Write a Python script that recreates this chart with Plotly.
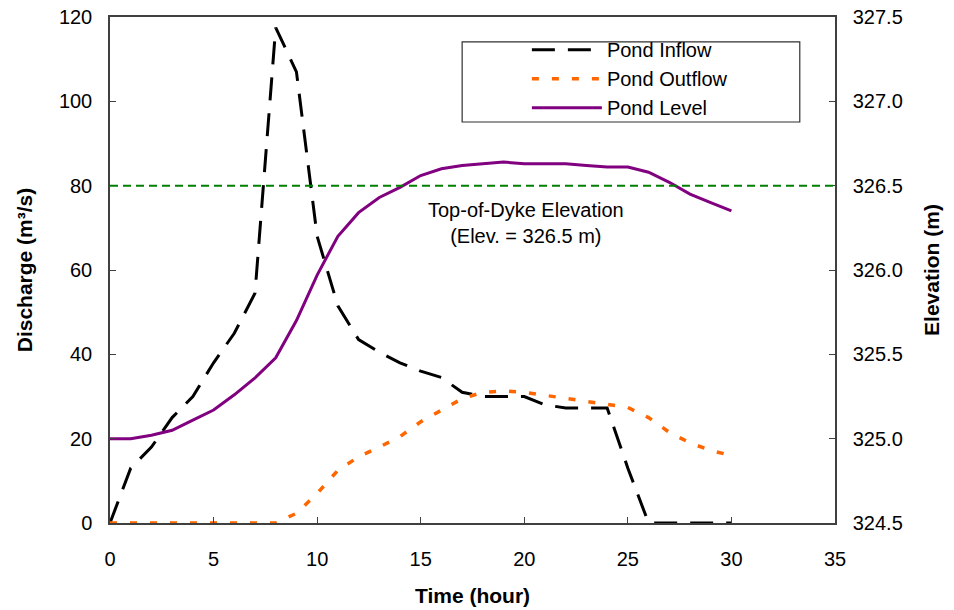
import plotly.graph_objects as go

# Hourly pond routing results
hours = list(range(0, 31))
inflow = [0, 13, 18, 25, 30, 38, 45, 54.5, 117.5, 107, 68, 51.5, 43.5, 40.5, 38,
          36, 34.5, 31, 30, 30, 30, 28, 27.3, 27.3, 27.3, 13, 0, 0, 0, 0, 0]
outflow = [0, 0, 0, 0, 0, 0, 0, 0, 0, 2.3, 7, 12.5, 15.7, 18, 20.5,
           24, 26.8, 29.5, 31, 31.3, 31, 30.3, 29.6, 28.8, 28.2, 27.4, 25, 21.5, 19, 17.2, 16]
level = [325.0, 325.0, 325.02, 325.05, 325.11, 325.17, 325.26, 325.36, 325.48, 325.7, 325.97,
         326.2, 326.34, 326.43, 326.49, 326.56, 326.6, 326.62, 326.63, 326.64, 326.63,
         326.63, 326.63, 326.62, 326.61, 326.61, 326.58, 326.52, 326.45, 326.4, 326.35]

dyke_elev = 326.5
series_names = ["Pond Inflow", "Pond Outflow", "Pond Level"]

FONT = "Liberation Sans, Arial, sans-serif"
AX = "#404040"

fig = go.Figure()
fig.add_trace(go.Scatter(x=hours, y=inflow, name=series_names[0], mode="lines",
                         line=dict(color="black", width=3, dash="23px,13px")))
fig.add_trace(go.Scatter(x=hours, y=outflow, name=series_names[1], mode="lines",
                         line=dict(color="#FF6600", width=3.5, dash="7px,13px")))
fig.add_trace(go.Scatter(x=hours, y=level, name=series_names[2], mode="lines", yaxis="y2",
                         line=dict(color="#800080", width=3)))

# top-of-dyke reference line
fig.add_shape(type="line", xref="x domain", x0=0, x1=1, yref="y2", y0=dyke_elev, y1=dyke_elev,
              line=dict(color="#008000", width=2, dash="8px,5px"))
fig.add_annotation(x=20.1, y=326.28, xref="x", yref="y2", showarrow=False,
                   text="Top-of-Dyke Elevation<br>(Elev. = 326.5 m)",
                   font=dict(family=FONT, size=20, color="black"), align="center")

# legend frame
fig.add_shape(type="rect", xref="x", yref="y", x0=17.0, x1=33.3, y0=95.1, y1=114.1,
              line=dict(color="#303030", width=1.2), fillcolor="rgba(0,0,0,0)")

axis_common = dict(showline=True, linecolor=AX, linewidth=1.5, ticks="inside", ticklen=6,
                   tickcolor=AX, tickwidth=1.2, showgrid=False, zeroline=False,
                   automargin=False,
                   tickfont=dict(family=FONT, size=20, color="black"))

fig.update_layout(
    width=954, height=610,
    margin=dict(l=110, r=119, t=17, b=87, autoexpand=False),
    paper_bgcolor="white", plot_bgcolor="white",
    font=dict(family=FONT, size=20, color="black"),
    showlegend=True,
    legend=dict(x=0.575, y=0.974, xanchor="left", yanchor="top", bgcolor="rgba(0,0,0,0)",
                borderwidth=0, itemwidth=70, font=dict(family=FONT, size=20),
                tracegroupgap=0),
    xaxis=dict(range=[0, 35], dtick=5, mirror=True, ticklabelstandoff=17,
               title=dict(text="<b>Time (hour)</b>", font=dict(family=FONT, size=21), standoff=20),
               **axis_common),
    yaxis=dict(range=[0, 120], dtick=20, ticklabelstandoff=12,
               title=dict(text="<b>Discharge (m³/s)</b>", font=dict(family=FONT, size=21), standoff=21),
               **axis_common),
    yaxis2=dict(range=[324.5, 327.5], dtick=0.5, tickformat=".1f", overlaying="y", side="right",
                ticklabelstandoff=12,
                title=dict(text="<b>Elevation (m)</b>", font=dict(family=FONT, size=21), standoff=22),
                **axis_common),
)

fig.write_html("out.html")
